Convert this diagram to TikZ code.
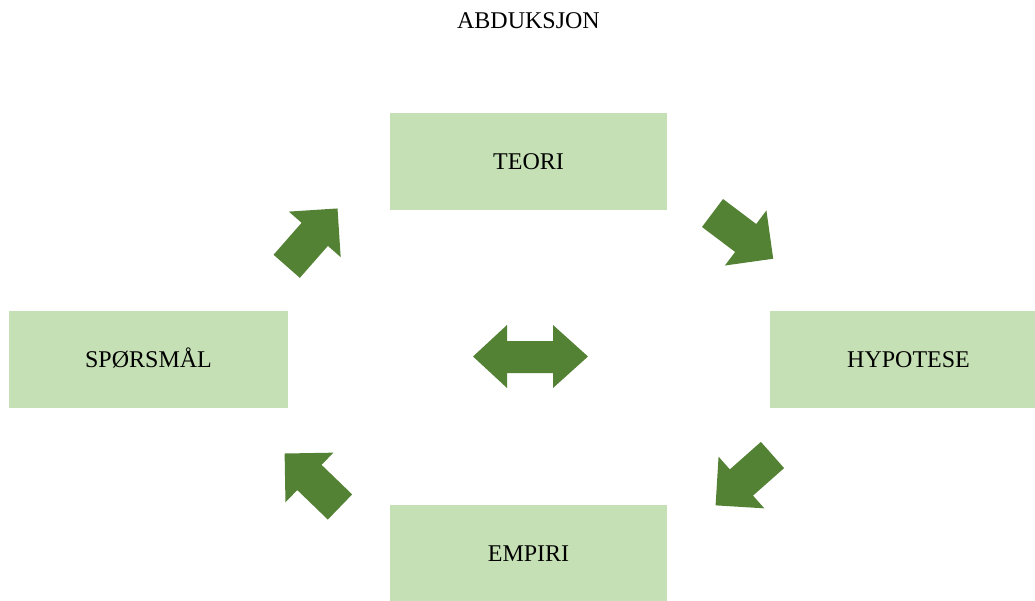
\documentclass[tikz,border=0pt]{standalone}
\usepackage{fontspec}
\setmainfont{Liberation Serif}
\definecolor{boxgreen}{HTML}{C5E0B4}
\definecolor{arrowgreen}{HTML}{548235}
\begin{document}
\begin{tikzpicture}[x=1pt,y=-1pt,
  stage/.style={fill=boxgreen, draw=none, inner sep=0pt, minimum height=97pt,
    text height=16pt, text depth=0pt, font=\fontsize{24}{28}\selectfont},
  title/.style={inner sep=0pt, text height=16pt, text depth=0pt,
    font=\fontsize{24}{28}\selectfont},
  pics/blockarrow/.style={code={
    \fill[arrowgreen] (0,-17.5) -- (#1-34.5,-17.5) -- (#1-34.5,-34.5) -- (#1,0)
      -- (#1-34.5,34.5) -- (#1-34.5,17.5) -- (0,17.5) -- cycle;}}]
  \useasboundingbox (0,0) rectangle (1035,601);

  % heading
  \node[title] (head) at (528.5,21) {ABDUKSJON};

  % the four stages
  \node[stage, minimum width=277pt] (teori)    at (528.5,161.5) {TEORI};
  \node[stage, minimum width=279pt] (sporsmal) at (148.5,359.5) {SPØRSMÅL};
  \node[stage, minimum width=277pt] (hypotese) at (908.5,359.5) {HYPOTESE};
  \node[stage, minimum width=277pt] (empiri)   at (528.5,553.5) {EMPIRI};

  % block arrows running round the cycle
  \pic[rotate=48.7]  at (286.7,266.3) {blockarrow=77};
  \pic[rotate=-37]   at (712.5,213)   {blockarrow=76};
  \pic[rotate=221.5] at (772.5,455)   {blockarrow=76};
  \pic[rotate=136]   at (340,507)     {blockarrow=77};

  % two-headed arrow in the middle
  \fill[arrowgreen] (473,356.5) -- (507,325) -- (507,341) -- (553,341) -- (553,325)
    -- (588,356.5) -- (553,388) -- (553,373) -- (507,373) -- (507,388) -- cycle;
\end{tikzpicture}
\end{document}
